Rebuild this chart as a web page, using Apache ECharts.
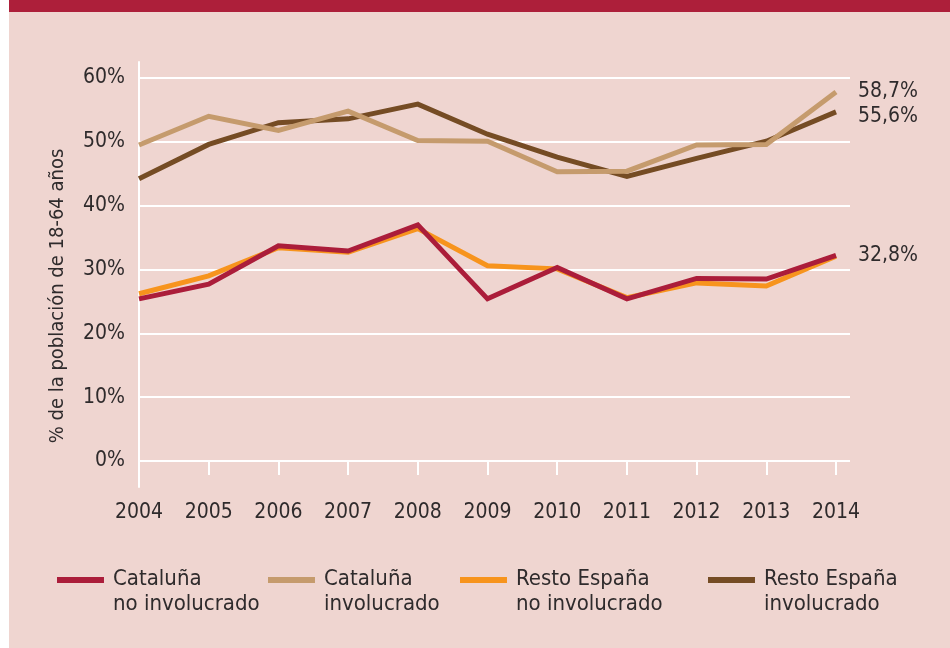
<!DOCTYPE html>
<html>
<head>
<meta charset="utf-8">
<script src="https://cdn.jsdelivr.net/npm/echarts@6/dist/echarts.min.js"></script>
<style>
  html, body { margin: 0; padding: 0; background: #fff; }
  #chart { width: 950px; height: 648px; }
</style>
</head>
<body>
<div id="chart"></div>
<script>
// años
const years = ['2004', '2005', '2006', '2007', '2008', '2009', '2010', '2011', '2012', '2013', '2014'];

// % de la población de 18-64 años
const catNoInv = [25.4, 27.7, 33.7, 32.9, 37.0, 25.4, 30.3, 25.4, 28.6, 28.5, 32.2];
const catInv = [49.5, 54.0, 51.8, 54.8, 50.2, 50.1, 45.3, 45.4, 49.5, 49.6, 57.8];
const restoNoInv = [26.2, 29.0, 33.4, 32.7, 36.4, 30.6, 30.1, 25.6, 27.9, 27.4, 32.1];
const restoInv = [44.2, 49.6, 53.0, 53.6, 55.9, 51.2, 47.6, 44.6, 47.4, 50.1, 54.7];

// etiquetas al final de las líneas
const endLabels = ['32,8%', '58,7%', '', '55,6%'];

const yTicks = [0, 10, 20, 30, 40, 50, 60];

const FONT = "'Liberation Sans Narrow', 'Arial Narrow', 'DejaVu Sans Condensed', sans-serif";
const TXT = '#2f2b2c';
const BG = '#efd5d0';

const names = ['Cataluña\nno involucrado', 'Cataluña\ninvolucrado', 'Resto España\nno involucrado', 'Resto España\ninvolucrado'];
const colors = ['#ab1d3a', '#c59b6d', '#f7941d', '#754c24'];
const values = [catNoInv, catInv, restoNoInv, restoInv];
const zs = [5, 4, 2, 3];
const labelOffsets = [[0, 0], [0, 0], [0, 0], [0, 5]];
const legendLeft = [52, 263, 455, 703];

// barra del icono arriba de la caja, para alinearla con la primera línea del texto
const legendIcon = 'path://M0,0H47V6H0Z M0,30H0.01V30.01H0Z';

const chart = echarts.init(document.getElementById('chart'));

const series = values.map((v, i) => ({
  name: names[i],
  type: 'line',
  xAxisIndex: 2,
  yAxisIndex: 2,
  data: v,
  symbol: 'none',
  z: zs[i],
  lineStyle: { color: colors[i], width: 5, join: 'miter' },
  itemStyle: { color: colors[i] },
  endLabel: {
    show: endLabels[i] !== '',
    formatter: () => endLabels[i],
    distance: 22,
    offset: labelOffsets[i],
    fontFamily: FONT,
    fontSize: 21,
    color: TXT
  }
}));

chart.setOption({
  animation: false,
  backgroundColor: BG,
  textStyle: { fontFamily: FONT },
  graphic: [
    { type: 'rect', shape: { x: 0, y: 0, width: 9, height: 648 }, style: { fill: '#fff' }, z: 100 },
    { type: 'rect', shape: { x: 9, y: 0, width: 941, height: 12 }, style: { fill: '#ad1f3a' }, z: 100 },
    {
      type: 'text',
      x: 58,
      y: 296,
      rotation: Math.PI / 2,
      style: {
        text: '% de la población de 18-64 años',
        fontFamily: FONT,
        fontSize: 20,
        fill: TXT,
        align: 'center',
        verticalAlign: 'middle'
      }
    }
  ],
  grid: [
    { left: 139, top: 62, width: 711, height: 425 },
    { left: 139, top: 78, width: 711, height: 383 },
    { left: 139, top: 78, width: 697, height: 383 }
  ],
  legend: values.map((v, i) => ({
    data: [names[i]],
    left: legendLeft[i],
    top: 562,
    icon: legendIcon,
    itemWidth: 47,
    itemHeight: 30,
    selectedMode: false,
    textStyle: {
      fontFamily: FONT,
      fontSize: 22,
      lineHeight: 25,
      color: TXT,
      padding: [0, 0, 0, 4]
    }
  })),
  xAxis: [
    { gridIndex: 0, type: 'value', show: false, min: 0, max: 1 },
    { gridIndex: 1, type: 'value', show: false, min: 0, max: 1 },
    {
      gridIndex: 2,
      type: 'category',
      data: years,
      boundaryGap: false,
      axisLine: { show: false },
      axisTick: { show: true, interval: 0, length: 14, lineStyle: { color: '#fff', width: 2 } },
      axisLabel: { interval: 0, margin: 41, fontFamily: FONT, fontSize: 21, color: TXT },
      splitLine: { show: false }
    }
  ],
  yAxis: [
    {
      gridIndex: 0,
      type: 'value',
      min: 0,
      max: 1,
      axisLine: { show: true, lineStyle: { color: '#fff', width: 2 } },
      axisTick: { show: false },
      axisLabel: { show: false },
      splitLine: { show: false }
    },
    {
      gridIndex: 1,
      type: 'value',
      min: yTicks[0],
      max: yTicks[yTicks.length - 1],
      interval: 10,
      axisLine: { show: false },
      axisTick: { show: false },
      axisLabel: { formatter: '{value}%', margin: 14, fontFamily: FONT, fontSize: 21, color: TXT },
      splitLine: { show: true, lineStyle: { color: '#fff', width: 2 } }
    },
    {
      gridIndex: 2,
      type: 'value',
      min: 0,
      max: 60,
      interval: 10,
      show: false,
      splitLine: { show: false }
    }
  ],
  series: series
});
</script>
</body>
</html>
